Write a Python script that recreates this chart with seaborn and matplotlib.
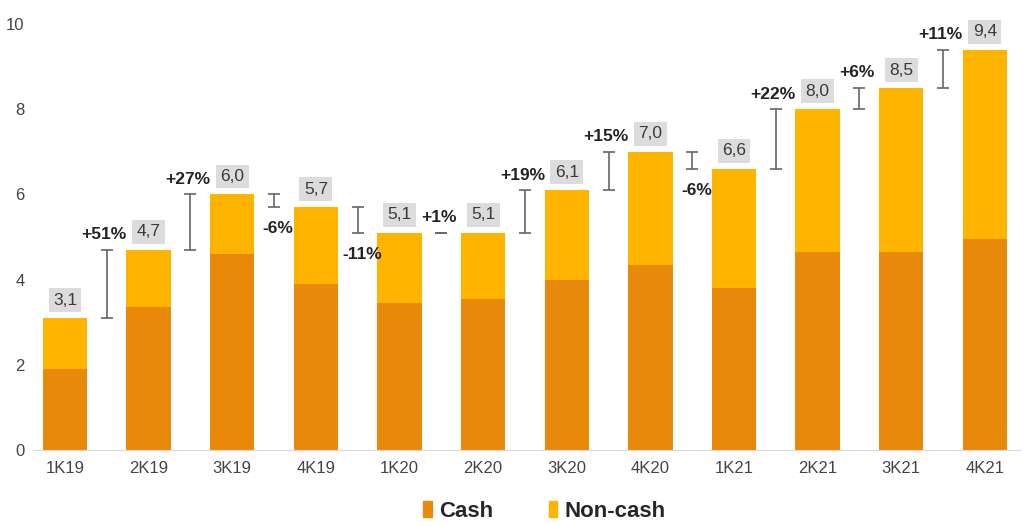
import pandas as pd
import numpy as np
import matplotlib
matplotlib.use('Agg')
from matplotlib import pyplot as plt
from matplotlib.patches import Patch
import seaborn as sns

# data
quarters = ['1K19', '2K19', '3K19', '4K19', '1K20', '2K20',
            '3K20', '4K20', '1K21', '2K21', '3K21', '4K21']
totals = [3.1, 4.7, 6.0, 5.7, 5.1, 5.1, 6.1, 7.0, 6.6, 8.0, 8.5, 9.4]
cash = [1.9, 3.35, 4.6, 3.9, 3.45, 3.55, 4.0, 4.35, 3.8, 4.65, 4.65, 4.95]
total_labels = ['3,1', '4,7', '6,0', '5,7', '5,1', '5,1',
                '6,1', '7,0', '6,6', '8,0', '8,5', '9,4']
changes = ['+51%', '+27%', '-6%', '-11%', '+1%', '+19%',
           '+15%', '-6%', '+22%', '+6%', '+11%']

cash_color = '#E8890C'
noncash_color = '#FFB400'

df = pd.DataFrame({'quarter': quarters, 'total': totals, 'cash': cash})
df['noncash'] = df['total'] - df['cash']

sns.set_style('white')
plt.rcParams['font.family'] = ['Liberation Sans', 'DejaVu Sans']

fig = plt.figure(figsize=(10.27, 5.26), dpi=100)
ax = fig.add_axes([33 / 1027, 76 / 526, 987 / 1027, 10.3 * 42.6 / 526])

# stacked bars: full total in non-cash colour, cash drawn over it
sns.barplot(data=df, x='quarter', y='total', color=noncash_color,
            width=0.53, saturation=1, linewidth=0, ax=ax)
sns.barplot(data=df, x='quarter', y='cash', color=cash_color,
            width=0.53, saturation=1, linewidth=0, ax=ax)

# totals in grey boxes
for i, (t, lab) in enumerate(zip(totals, total_labels)):
    ax.text(i, t + 0.42, lab, ha='center', va='center', fontsize=12.5,
            color='#3A3A3A',
            bbox=dict(boxstyle='square,pad=0.25', fc='#DCDCDC', ec='none'))

# change brackets between bars
for i, ch in enumerate(changes):
    lo, hi = totals[i], totals[i + 1]
    x = i + 0.5
    ax.errorbar(x, (lo + hi) / 2, yerr=abs(hi - lo) / 2, fmt='none',
                ecolor='#666666', elinewidth=1.2, capsize=4, capthick=1.2)
    if ch.startswith('+'):
        ax.text(x - 0.03, max(lo, hi) + 0.35, ch, ha='center', va='center',
                fontsize=12.5, fontweight='bold', color='#222222')
    else:
        ax.text(x + 0.05, min(lo, hi) - 0.5, ch, ha='center', va='center',
                fontsize=12.5, fontweight='bold', color='#222222')

ax.set_xlim(-0.383, 11.42)
ax.set_ylim(0, 10.3)
ax.set_yticks([0, 2, 4, 6, 8, 10])
ax.set_xlabel('')
ax.set_ylabel('')
ax.tick_params(axis='both', labelsize=12, colors='#444444', length=0)
ax.tick_params(axis='x', pad=8)
ax.tick_params(axis='y', pad=6)
sns.despine(ax=ax, left=True, right=True, top=True)
ax.spines['bottom'].set_color('#D9D9D9')

handles = [Patch(color=cash_color, label='Cash'),
           Patch(color=noncash_color, label='Non-cash')]
fig.legend(handles=handles, loc='center', bbox_to_anchor=(0.53, 0.028),
           ncol=2, frameon=False, handlelength=0.4, handleheight=0.7,
           handletextpad=0.3, columnspacing=2.5,
           prop={'weight': 'bold', 'size': 16})

fig.savefig('out.png', dpi=100)
